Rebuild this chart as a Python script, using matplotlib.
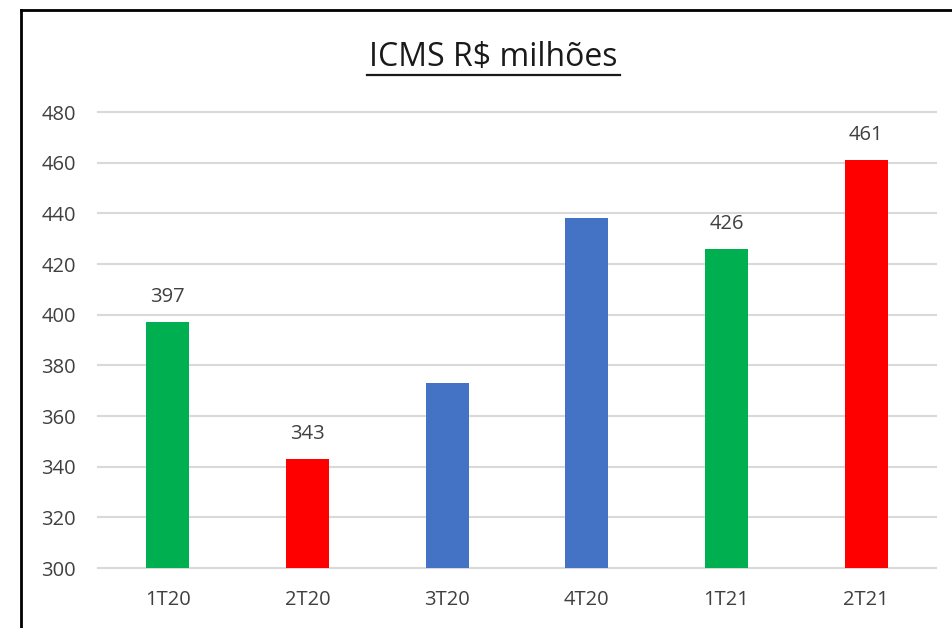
import matplotlib.pyplot as plt
from matplotlib.lines import Line2D

categories = ['1T20', '2T20', '3T20', '4T20', '1T21', '2T21']
values = [397, 343, 373, 438, 426, 461]
colors = ['#00B050', '#FF0000', '#4472C4', '#4472C4', '#00B050', '#FF0000']
show_label = [True, True, False, False, True, True]

plt.rcParams['font.family'] = ['Open Sans', 'DejaVu Sans']

W, H = 953, 628
fig = plt.figure(figsize=(W / 100, H / 100), dpi=100)
ax = fig.add_axes([98 / W, (H - 568) / H, (936 - 98) / W, (568 - 112) / H])

x = range(len(categories))
ax.bar(x, values, width=0.31, color=colors, bottom=0, zorder=3)
ax.set_ylim(300, 480)
ax.set_xlim(-0.5, len(categories) - 0.5)
ax.set_yticks(range(300, 481, 20))
ax.set_xticks(list(x))
ax.set_xticklabels(categories)
ax.grid(axis='y', color='#D9D9D9', linewidth=1.5, zorder=0)
for gl in ax.get_ygridlines():
    gl.set_clip_on(False)
for s in ax.spines.values():
    s.set_visible(False)
ax.tick_params(length=0, labelsize=14.5, colors='#404040')
ax.tick_params(axis='y', pad=16)
ax.tick_params(axis='x', pad=16)

for i, v in enumerate(values):
    if show_label[i]:
        ax.annotate(str(v), (i, v), xytext=(0, 11), textcoords='offset points',
                    ha='center', va='bottom', fontsize=14.5, color='#404040')

fig.text(493 / W, 1 - 58 / H, 'ICMS R$ milhões', ha='center', va='center',
         fontsize=23, color='#1a1a1a')
# underline
fig.add_artist(Line2D([367 / W, 620 / W], [1 - 75 / H, 1 - 75 / H], color='#1a1a1a', lw=1.6))

# outer border (left and top)
fig.add_artist(Line2D([21 / W, 21 / W], [0, 1 - 10 / H], color='black', lw=2))
fig.add_artist(Line2D([21 / W, 1], [1 - 10 / H, 1 - 10 / H], color='black', lw=2))

fig.savefig('out.png', dpi=100)
